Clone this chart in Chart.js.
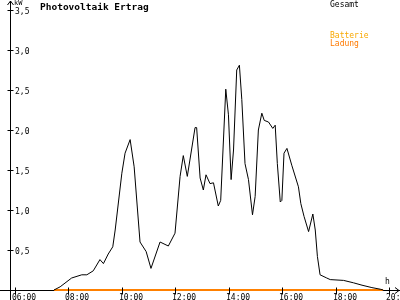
<!DOCTYPE html>
<html>
<head>
<meta charset="utf-8">
<script src="https://cdn.jsdelivr.net/npm/chart.js@4/dist/chart.umd.min.js"></script>
<style>
html,body{margin:0;padding:0;background:#fff;}
canvas{display:block;}
</style>
</head>
<body>
<canvas id="c" width="400" height="300"></canvas>
<script>
// ---- data ----
const title = "Photovoltaik Ertrag";
const yUnit = "kW";
const xUnit = "h";
const gesamtHours = [7.46,7.69,8.12,8.50,8.69,8.93,9.18,9.31,9.49,9.66,9.75,10.00,10.12,10.31,10.46,10.68,10.91,11.09,11.43,11.74,11.99,12.18,12.30,12.45,12.74,12.80,12.93,13.05,13.15,13.30,13.43,13.61,13.70,13.89,13.99,14.09,14.18,14.30,14.40,14.49,14.61,14.74,14.89,14.99,15.11,15.24,15.33,15.49,15.65,15.74,15.82,15.93,15.99,16.07,16.18,16.36,16.61,16.70,16.82,16.99,17.15,17.24,17.32,17.42,17.67,17.80,18.30,18.67,18.99,19.36,19.67,19.78];
const gesamtKW = [0.00,0.04,0.15,0.19,0.19,0.24,0.38,0.33,0.45,0.54,0.75,1.46,1.71,1.88,1.54,0.60,0.48,0.27,0.60,0.55,0.71,1.42,1.68,1.42,2.03,2.03,1.40,1.25,1.44,1.33,1.34,1.05,1.12,2.51,2.19,1.38,1.75,2.75,2.81,2.38,1.58,1.38,0.94,1.17,2.00,2.21,2.12,2.10,2.02,2.06,1.58,1.10,1.12,1.71,1.77,1.56,1.29,1.08,0.92,0.73,0.95,0.75,0.42,0.19,0.15,0.13,0.12,0.09,0.06,0.03,0.01,0.00];
const batterieHours = [7.46,19.78];
const batterieKW = [0,0];
const xTicks = [6,8,10,12,14,16,18,20];
const xTickLabels = ["06:00","08:00","10:00","12:00","14:00","16:00","18:00","20:00"];
const yTicks = [0.5,1.0,1.5,2.0,2.5,3.0,3.5];
const yTickLabels = ["0,5","1,0","1,5","2,0","2,5","3,0","3,5"];

const toPts = (xs, ys) => xs.map((x, i) => ({x: x, y: ys[i]}));

const axesPlugin = {
  id: 'axesPlugin',
  beforeDatasetsDraw(chart) {
    const ctx = chart.ctx;
    const xs = chart.scales.x, ys = chart.scales.y;
    const y0 = ys.getPixelForValue(0);
    const xAxis = 10.5;
    ctx.save();
    ctx.strokeStyle = '#000';
    ctx.lineWidth = 1;
    // x axis line
    ctx.beginPath();
    ctx.moveTo(0, Math.round(y0) + 0.5);
    ctx.lineTo(400, Math.round(y0) + 0.5);
    ctx.stroke();
    // y axis line
    ctx.beginPath();
    ctx.moveTo(xAxis, 1);
    ctx.lineTo(xAxis, 300);
    ctx.stroke();
    ctx.restore();
  },
  afterDatasetsDraw(chart) {
    const ctx = chart.ctx;
    const xs = chart.scales.x, ys = chart.scales.y;
    const y0 = Math.round(ys.getPixelForValue(0)) + 0.5;
    const xAxis = 10.5;
    ctx.save();
    ctx.strokeStyle = '#000';
    ctx.fillStyle = '#000';
    ctx.lineWidth = 1;
    // y arrow
    ctx.beginPath();
    ctx.moveTo(xAxis - 3, 5); ctx.lineTo(xAxis, 1); ctx.lineTo(xAxis + 3, 5);
    ctx.stroke();
    // x arrow
    ctx.beginPath();
    ctx.moveTo(395, y0 - 3); ctx.lineTo(399, y0); ctx.lineTo(395, y0 + 3);
    ctx.stroke();
    // y ticks
    ctx.font = '8px "DejaVu Sans Mono", monospace';
    ctx.textBaseline = 'middle';
    ctx.textAlign = 'left';
    yTicks.forEach((v, i) => {
      const py = Math.round(ys.getPixelForValue(v)) + 0.5;
      ctx.beginPath();
      ctx.moveTo(xAxis - 3, py); ctx.lineTo(xAxis + 3, py);
      ctx.stroke();
      ctx.fillText(yTickLabels[i], 15, py + 1);
    });
    // x ticks
    ctx.textBaseline = 'top';
    xTicks.forEach((v, i) => {
      const px = Math.round(xs.getPixelForValue(v)) + 0.5;
      ctx.beginPath();
      ctx.moveTo(px, y0 - 3); ctx.lineTo(px, y0 + 4);
      ctx.stroke();
      ctx.fillText(xTickLabels[i], px - 3.5, y0 + 3);
    });
    // unit labels
    ctx.font = '7px "DejaVu Sans Mono", monospace';
    ctx.textBaseline = 'top';
    ctx.fillText(yUnit, 14, 0);
    ctx.font = '8px "DejaVu Sans Mono", monospace';
    ctx.fillText(xUnit, 385, 278);
    // title
    ctx.font = 'bold 9.5px "DejaVu Sans Mono", monospace';
    ctx.fillText(title, 40, 3);
    // legend
    ctx.font = '8px "DejaVu Sans Mono", monospace';
    ctx.fillStyle = '#000';
    ctx.fillText(chart.data.datasets[0].label, 330, 1);
    const bl = chart.data.datasets[1].label.split(' ');
    ctx.fillStyle = '#f8a800';
    ctx.fillText(bl[0], 330, 32);
    ctx.fillStyle = '#ff7a00';
    ctx.fillText(bl[1], 330, 40);
    ctx.restore();
  }
};

new Chart(document.getElementById('c'), {
  type: 'line',
  data: {
    datasets: [
      { label: 'Gesamt', data: toPts(gesamtHours, gesamtKW), borderColor: '#000', borderWidth: 1, pointRadius: 0, tension: 0, fill: false, clip: false },
      { label: 'Batterie Ladung', data: toPts(batterieHours, batterieKW), borderColor: '#ff8000', borderWidth: 2, pointRadius: 0, tension: 0, fill: false, clip: false }
    ]
  },
  options: {
    responsive: false,
    devicePixelRatio: 1,
    animation: false,
    layout: { padding: { left: 10, right: 0, top: 10, bottom: 10 } },
    plugins: { legend: { display: false }, tooltip: { enabled: false }, title: { display: false } },
    scales: {
      x: { type: 'linear', display: false, min: 5.813, max: 20.412 },
      y: { type: 'linear', display: false, min: 0, max: 3.5 }
    }
  },
  plugins: [axesPlugin]
});
</script>
</body>
</html>
